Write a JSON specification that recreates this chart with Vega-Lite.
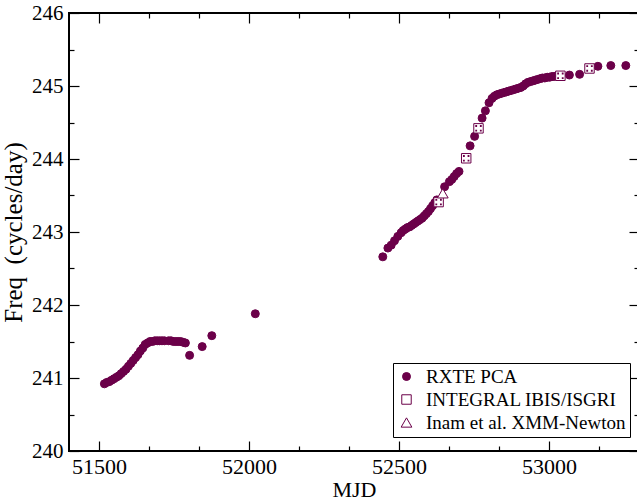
{
  "$schema": "https://vega.github.io/schema/vega-lite/v6.json",
  "autosize": "none",
  "width": 570,
  "height": 438,
  "padding": {"left": 69, "top": 13, "right": -2, "bottom": 50},
  "background": "white",
  "config": {
    "view": {"stroke": "black", "strokeWidth": 2},
    "font": "Liberation Serif",
    "axis": {
      "domain": false,
      "grid": false,
      "tickColor": "black",
      "tickWidth": 1.2,
      "labelFont": "Liberation Serif",
      "titleFont": "Liberation Serif",
      "labelColor": "black",
      "titleColor": "black",
      "titleFontWeight": "normal",
      "format": "d"
    }
  },
  "datasets": {
    "pts": [
      {"mjd": 51518, "freq": 240.92, "inst": "RXTE PCA"},
      {"mjd": 51526, "freq": 240.94, "inst": "RXTE PCA"},
      {"mjd": 51534, "freq": 240.95, "inst": "RXTE PCA"},
      {"mjd": 51542, "freq": 240.97, "inst": "RXTE PCA"},
      {"mjd": 51550, "freq": 240.99, "inst": "RXTE PCA"},
      {"mjd": 51558, "freq": 241.01, "inst": "RXTE PCA"},
      {"mjd": 51566, "freq": 241.03, "inst": "RXTE PCA"},
      {"mjd": 51574, "freq": 241.06, "inst": "RXTE PCA"},
      {"mjd": 51582, "freq": 241.09, "inst": "RXTE PCA"},
      {"mjd": 51590, "freq": 241.12, "inst": "RXTE PCA"},
      {"mjd": 51598, "freq": 241.16, "inst": "RXTE PCA"},
      {"mjd": 51606, "freq": 241.20, "inst": "RXTE PCA"},
      {"mjd": 51614, "freq": 241.24, "inst": "RXTE PCA"},
      {"mjd": 51622, "freq": 241.28, "inst": "RXTE PCA"},
      {"mjd": 51630, "freq": 241.32, "inst": "RXTE PCA"},
      {"mjd": 51638, "freq": 241.37, "inst": "RXTE PCA"},
      {"mjd": 51646, "freq": 241.41, "inst": "RXTE PCA"},
      {"mjd": 51654, "freq": 241.46, "inst": "RXTE PCA"},
      {"mjd": 51662, "freq": 241.48, "inst": "RXTE PCA"},
      {"mjd": 51670, "freq": 241.50, "inst": "RXTE PCA"},
      {"mjd": 51678, "freq": 241.50, "inst": "RXTE PCA"},
      {"mjd": 51686, "freq": 241.51, "inst": "RXTE PCA"},
      {"mjd": 51694, "freq": 241.51, "inst": "RXTE PCA"},
      {"mjd": 51702, "freq": 241.51, "inst": "RXTE PCA"},
      {"mjd": 51710, "freq": 241.51, "inst": "RXTE PCA"},
      {"mjd": 51718, "freq": 241.51, "inst": "RXTE PCA"},
      {"mjd": 51732, "freq": 241.51, "inst": "RXTE PCA"},
      {"mjd": 51740, "freq": 241.51, "inst": "RXTE PCA"},
      {"mjd": 51748, "freq": 241.50, "inst": "RXTE PCA"},
      {"mjd": 51756, "freq": 241.50, "inst": "RXTE PCA"},
      {"mjd": 51764, "freq": 241.50, "inst": "RXTE PCA"},
      {"mjd": 51772, "freq": 241.50, "inst": "RXTE PCA"},
      {"mjd": 51780, "freq": 241.49, "inst": "RXTE PCA"},
      {"mjd": 51788, "freq": 241.48, "inst": "RXTE PCA"},
      {"mjd": 51802, "freq": 241.31, "inst": "RXTE PCA"},
      {"mjd": 51844, "freq": 241.43, "inst": "RXTE PCA"},
      {"mjd": 51876, "freq": 241.58, "inst": "RXTE PCA"},
      {"mjd": 52021, "freq": 241.88, "inst": "RXTE PCA"},
      {"mjd": 52446, "freq": 242.66, "inst": "RXTE PCA"},
      {"mjd": 52463, "freq": 242.78, "inst": "RXTE PCA"},
      {"mjd": 52474, "freq": 242.82, "inst": "RXTE PCA"},
      {"mjd": 52485, "freq": 242.88, "inst": "RXTE PCA"},
      {"mjd": 52496, "freq": 242.94, "inst": "RXTE PCA"},
      {"mjd": 52507, "freq": 242.99, "inst": "RXTE PCA"},
      {"mjd": 52514, "freq": 243.02, "inst": "RXTE PCA"},
      {"mjd": 52521, "freq": 243.04, "inst": "RXTE PCA"},
      {"mjd": 52528, "freq": 243.06, "inst": "RXTE PCA"},
      {"mjd": 52535, "freq": 243.07, "inst": "RXTE PCA"},
      {"mjd": 52542, "freq": 243.09, "inst": "RXTE PCA"},
      {"mjd": 52549, "freq": 243.11, "inst": "RXTE PCA"},
      {"mjd": 52556, "freq": 243.13, "inst": "RXTE PCA"},
      {"mjd": 52563, "freq": 243.15, "inst": "RXTE PCA"},
      {"mjd": 52570, "freq": 243.17, "inst": "RXTE PCA"},
      {"mjd": 52577, "freq": 243.19, "inst": "RXTE PCA"},
      {"mjd": 52584, "freq": 243.22, "inst": "RXTE PCA"},
      {"mjd": 52591, "freq": 243.25, "inst": "RXTE PCA"},
      {"mjd": 52598, "freq": 243.28, "inst": "RXTE PCA"},
      {"mjd": 52605, "freq": 243.32, "inst": "RXTE PCA"},
      {"mjd": 52612, "freq": 243.36, "inst": "RXTE PCA"},
      {"mjd": 52619, "freq": 243.40, "inst": "RXTE PCA"},
      {"mjd": 52626, "freq": 243.44, "inst": "RXTE PCA"},
      {"mjd": 52652, "freq": 243.62, "inst": "RXTE PCA"},
      {"mjd": 52668, "freq": 243.69, "inst": "RXTE PCA"},
      {"mjd": 52676, "freq": 243.72, "inst": "RXTE PCA"},
      {"mjd": 52684, "freq": 243.76, "inst": "RXTE PCA"},
      {"mjd": 52692, "freq": 243.80, "inst": "RXTE PCA"},
      {"mjd": 52700, "freq": 243.83, "inst": "RXTE PCA"},
      {"mjd": 52737, "freq": 244.18, "inst": "RXTE PCA"},
      {"mjd": 52752, "freq": 244.31, "inst": "RXTE PCA"},
      {"mjd": 52777, "freq": 244.56, "inst": "RXTE PCA"},
      {"mjd": 52788, "freq": 244.66, "inst": "RXTE PCA"},
      {"mjd": 52800, "freq": 244.77, "inst": "RXTE PCA"},
      {"mjd": 52810, "freq": 244.83, "inst": "RXTE PCA"},
      {"mjd": 52818, "freq": 244.86, "inst": "RXTE PCA"},
      {"mjd": 52826, "freq": 244.88, "inst": "RXTE PCA"},
      {"mjd": 52834, "freq": 244.89, "inst": "RXTE PCA"},
      {"mjd": 52842, "freq": 244.90, "inst": "RXTE PCA"},
      {"mjd": 52850, "freq": 244.91, "inst": "RXTE PCA"},
      {"mjd": 52858, "freq": 244.92, "inst": "RXTE PCA"},
      {"mjd": 52866, "freq": 244.93, "inst": "RXTE PCA"},
      {"mjd": 52874, "freq": 244.94, "inst": "RXTE PCA"},
      {"mjd": 52882, "freq": 244.95, "inst": "RXTE PCA"},
      {"mjd": 52890, "freq": 244.96, "inst": "RXTE PCA"},
      {"mjd": 52898, "freq": 244.97, "inst": "RXTE PCA"},
      {"mjd": 52906, "freq": 244.98, "inst": "RXTE PCA"},
      {"mjd": 52914, "freq": 245.00, "inst": "RXTE PCA"},
      {"mjd": 52922, "freq": 245.03, "inst": "RXTE PCA"},
      {"mjd": 52930, "freq": 245.05, "inst": "RXTE PCA"},
      {"mjd": 52938, "freq": 245.06, "inst": "RXTE PCA"},
      {"mjd": 52946, "freq": 245.07, "inst": "RXTE PCA"},
      {"mjd": 52954, "freq": 245.08, "inst": "RXTE PCA"},
      {"mjd": 52962, "freq": 245.09, "inst": "RXTE PCA"},
      {"mjd": 52970, "freq": 245.10, "inst": "RXTE PCA"},
      {"mjd": 52978, "freq": 245.11, "inst": "RXTE PCA"},
      {"mjd": 52986, "freq": 245.11, "inst": "RXTE PCA"},
      {"mjd": 52994, "freq": 245.12, "inst": "RXTE PCA"},
      {"mjd": 53002, "freq": 245.12, "inst": "RXTE PCA"},
      {"mjd": 53010, "freq": 245.13, "inst": "RXTE PCA"},
      {"mjd": 53018, "freq": 245.13, "inst": "RXTE PCA"},
      {"mjd": 53026, "freq": 245.14, "inst": "RXTE PCA"},
      {"mjd": 53068, "freq": 245.15, "inst": "RXTE PCA"},
      {"mjd": 53102, "freq": 245.16, "inst": "RXTE PCA"},
      {"mjd": 53163, "freq": 245.27, "inst": "RXTE PCA"},
      {"mjd": 53206, "freq": 245.28, "inst": "RXTE PCA"},
      {"mjd": 53256, "freq": 245.28, "inst": "RXTE PCA"},
      {"mjd": 52632, "freq": 243.41, "inst": "INTEGRAL IBIS/ISGRI"},
      {"mjd": 52724, "freq": 244.01, "inst": "INTEGRAL IBIS/ISGRI"},
      {"mjd": 52765, "freq": 244.42, "inst": "INTEGRAL IBIS/ISGRI"},
      {"mjd": 53038, "freq": 245.14, "inst": "INTEGRAL IBIS/ISGRI"},
      {"mjd": 53135, "freq": 245.24, "inst": "INTEGRAL IBIS/ISGRI"},
      {"mjd": 52646, "freq": 243.53, "inst": "Inam et al. XMM-Newton"}
    ]
  },
  "data": {"name": "pts"},
  "layer": [
    {
      "mark": {"type": "point", "filled": true, "opacity": 1, "strokeWidth": 1},
      "encoding": {
        "x": {
          "field": "mjd", "type": "quantitative",
          "scale": {"domain": [51400, 53300], "nice": false, "zero": false},
          "axis": {
            "orient": "bottom", "title": "MJD", "values": [51500, 52000, 52500, 53000],
            "tickSize": -10, "labelPadding": 15, "labelFontSize": 22, "titleFontSize": 22,
            "titlePadding": 2, "labelFlush": false
          }
        },
        "y": {
          "field": "freq", "type": "quantitative",
          "scale": {"domain": [240, 246], "nice": false, "zero": false},
          "axis": {
            "orient": "left", "title": "Freq\u00a0\u00a0(cycles/day)", "values": [240, 241, 242, 243, 244, 245, 246],
            "tickSize": -10, "labelPadding": 16, "labelFontSize": 21, "titleFontSize": 25,
            "titlePadding": 5, "labelFlush": false
          }
        },
        "shape": {
          "field": "inst", "type": "nominal",
          "scale": {"domain": ["RXTE PCA", "INTEGRAL IBIS/ISGRI", "Inam et al. XMM-Newton"], "range": ["circle", "square", "triangle-up"]},
          "legend": {
            "title": null, "orient": "none", "legendX": 324, "legendY": 350,
            "strokeColor": "black", "fillColor": "white", "padding": 4,
            "labelFont": "Liberation Serif", "labelFontSize": 19, "labelColor": "black",
            "labelOffset": 10, "rowPadding": 3, "symbolStrokeWidth": 1, "labelLimit": 0
          }
        },
        "fill": {
          "field": "inst", "type": "nominal",
          "scale": {"domain": ["RXTE PCA", "INTEGRAL IBIS/ISGRI", "Inam et al. XMM-Newton"], "range": ["#6b0049", "white", "white"]}
        },
        "stroke": {
          "field": "inst", "type": "nominal",
          "scale": {"domain": ["RXTE PCA", "INTEGRAL IBIS/ISGRI", "Inam et al. XMM-Newton"], "range": ["#6b0049", "#6b0049", "#6b0049"]}
        },
        "size": {
          "field": "inst", "type": "nominal",
          "scale": {"domain": ["RXTE PCA", "INTEGRAL IBIS/ISGRI", "Inam et al. XMM-Newton"], "range": [64, 115, 260]}
        }
      }
    },
    {
      "transform": [{"filter": "datum.inst === 'INTEGRAL IBIS/ISGRI'"}],
      "mark": {
        "type": "point", "filled": true, "opacity": 1, "color": "#6b0049", "size": 115,
        "shape": "M-0.6,-0.6h0.34v0.34h-0.34z M0.26,-0.6h0.34v0.34h-0.34z M-0.6,0.26h0.34v0.34h-0.34z M0.26,0.26h0.34v0.34h-0.34z"
      },
      "encoding": {
        "x": {"field": "mjd", "type": "quantitative", "axis": {"orient": "bottom", "title": null, "labels": false, "values": [51666.67, 51833.33, 52166.67, 52333.33, 52666.67, 52833.33, 53166.67], "tickSize": -5}},
        "y": {"field": "freq", "type": "quantitative", "axis": {"orient": "left", "title": null, "labels": false, "values": [240.5, 241.5, 242.5, 243.5, 244.5, 245.5], "tickSize": -5}}
      }
    },
    {
      "mark": {"type": "point", "opacity": 0},
      "encoding": {
        "x": {"field": "mjd", "type": "quantitative", "axis": {"orient": "top", "title": null, "labels": false, "values": [51500, 52000, 52500, 53000], "tickSize": -10}},
        "y": {"field": "freq", "type": "quantitative", "axis": {"orient": "right", "title": null, "labels": false, "values": [240, 241, 242, 243, 244, 245, 246], "tickSize": -10}}
      }
    },
    {
      "mark": {"type": "point", "opacity": 0},
      "encoding": {
        "x": {"field": "mjd", "type": "quantitative", "axis": {"orient": "top", "title": null, "labels": false, "values": [51666.67, 51833.33, 52166.67, 52333.33, 52666.67, 52833.33, 53166.67], "tickSize": -5}},
        "y": {"field": "freq", "type": "quantitative", "axis": {"orient": "right", "title": null, "labels": false, "values": [240.5, 241.5, 242.5, 243.5, 244.5, 245.5], "tickSize": -5}}
      }
    }
  ],
  "resolve": {"axis": {"x": "independent", "y": "independent"}}
}
